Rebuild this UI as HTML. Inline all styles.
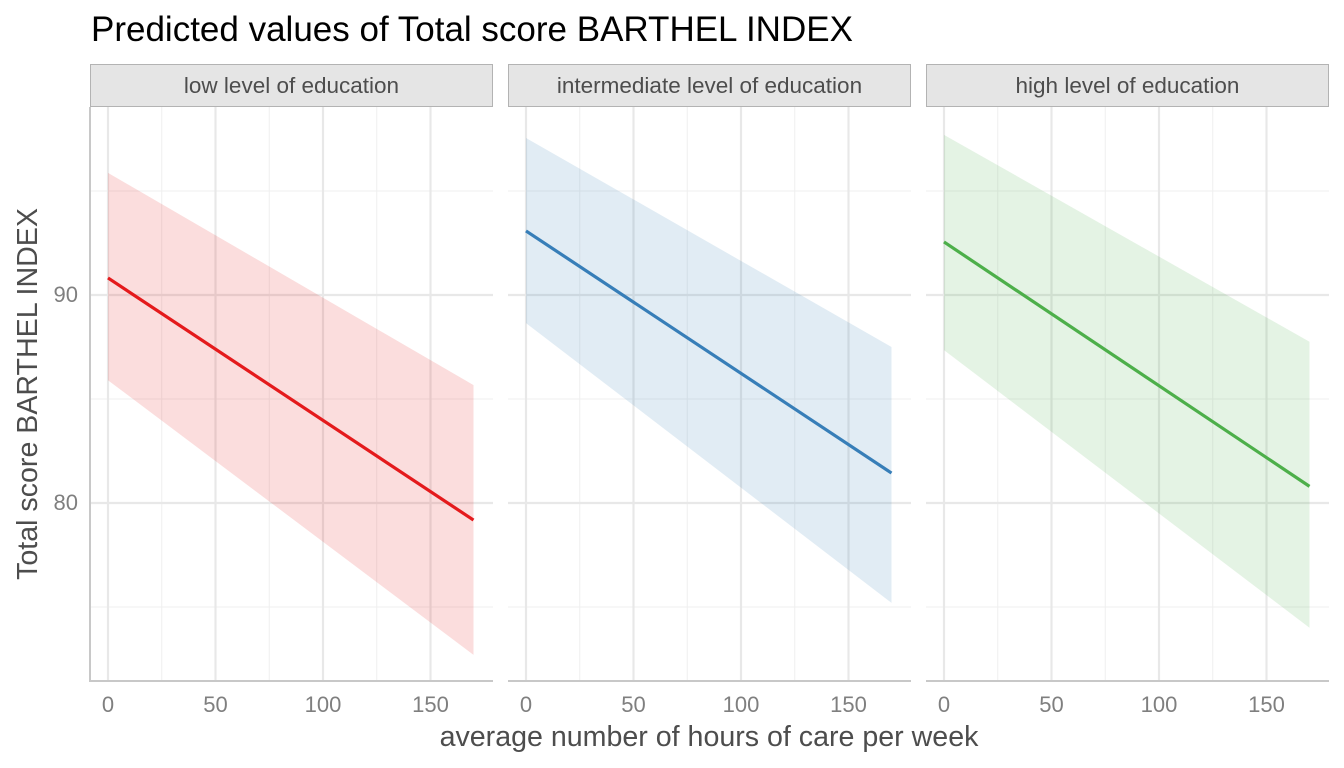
<!DOCTYPE html>
<html><head><meta charset="utf-8"><style>
body{margin:0;background:#fff;}
svg{display:block;font-family:"Liberation Sans",Arial,sans-serif;}
</style></head><body>
<svg id="chart" width="1344" height="768">
<text x="91" y="41" font-size="35" fill="#000">Predicted values of Total score BARTHEL INDEX</text>
<text x="709" y="746" font-size="28.6" fill="#4d4d4d" text-anchor="middle">average number of hours of care per week</text>
<text transform="translate(37,394) rotate(-90)" font-size="28.6" fill="#4d4d4d" text-anchor="middle">Total score BARTHEL INDEX</text>
</svg>
<script>
const panels = ["low level of education","intermediate level of education","high level of education"];
const colors = ["#e41a1c","#377eb8","#4daf4a"];
const xVals = [0,170];
const fitValues = [[90.82,79.18],[93.08,81.44],[92.55,80.8]];
const upperValues = [[95.87,85.67],[97.55,87.5],[97.7,87.75]];
const lowerValues = [[85.9,72.7],[88.65,75.2],[87.35,74.0]];
const xTicks = [0,50,100,150];
const xMinor = [25,75,125];
const yTicks = [80,90];
const yMinor = [75,85,95];

const svgEl=document.getElementById('chart');
const NS='http://www.w3.org/2000/svg';
function mk(t,a,p){const e=document.createElementNS(NS,t);for(const k in a)e.setAttribute(k,a[k]);(p||svgEl).appendChild(e);return e;}
const panelLeft=[90,508,926], panelW=403, plotTop=107, plotBottom=681;
const xs=(v,i)=>panelLeft[i]+18+v*2.15;
const ys=v=>295-(v-90)*20.8;

panels.forEach((name,i)=>{
  const g=mk('g',{});
  
  
  const L=panelLeft[i], R=L+panelW;
  yMinor.forEach(v=>{const l=mk('line',{x1:L,x2:R,y1:ys(v),y2:ys(v),stroke:'#efefef','stroke-width':1},g);
    
    });
  xMinor.forEach(v=>{const l=mk('line',{x1:xs(v,i),x2:xs(v,i),y1:plotTop,y2:plotBottom,stroke:'#efefef','stroke-width':1},g);
    
    });
  yTicks.forEach(v=>{const l=mk('line',{x1:L,x2:R,y1:ys(v),y2:ys(v),stroke:'#e8e8e8','stroke-width':2.2},g);
    
    });
  xTicks.forEach(v=>{const l=mk('line',{x1:xs(v,i),x2:xs(v,i),y1:plotTop,y2:plotBottom,stroke:'#e8e8e8','stroke-width':2.2},g);
    
    
    const t=mk('text',{x:xs(v,i),y:712,'font-size':22,fill:'#7f7f7f','text-anchor':'middle'},g);t.textContent=v;
    
    });
  const pts=xVals.map((x,j)=>xs(x,i)+','+ys(upperValues[i][j])).concat(xVals.map((x,j)=>xs(x,i)+','+ys(lowerValues[i][j])).reverse());
  const rb=mk('polygon',{points:pts.join(' '),fill:colors[i],'fill-opacity':0.15},g);
  
  
  const ln=mk('polyline',{points:xVals.map((x,j)=>xs(x,i)+','+ys(fitValues[i][j])).join(' '),fill:'none',stroke:colors[i],'stroke-width':3.2},g);
  
  
  const ax=mk('line',{x1:L,x2:R,y1:plotBottom,y2:plotBottom,stroke:'#c8c8c8','stroke-width':2},g);
  
  
  const st=mk('rect',{x:L+0.5,y:64.5,width:panelW-1,height:42,fill:'#e5e5e5',stroke:'#b3b3b3','stroke-width':1},g);
  
  
  const stt=mk('text',{x:L+panelW/2,y:93,'font-size':22.5,fill:'#4d4d4d','text-anchor':'middle'},g);stt.textContent=name;
  
  
});
const ya=mk('line',{x1:90,x2:90,y1:plotTop,y2:plotBottom+1,stroke:'#c8c8c8','stroke-width':2});


yTicks.forEach(v=>{const t=mk('text',{x:78,y:ys(v)+7,'font-size':22,fill:'#7f7f7f','text-anchor':'end'});t.textContent=v;
  
  });
</script>
</body></html>
